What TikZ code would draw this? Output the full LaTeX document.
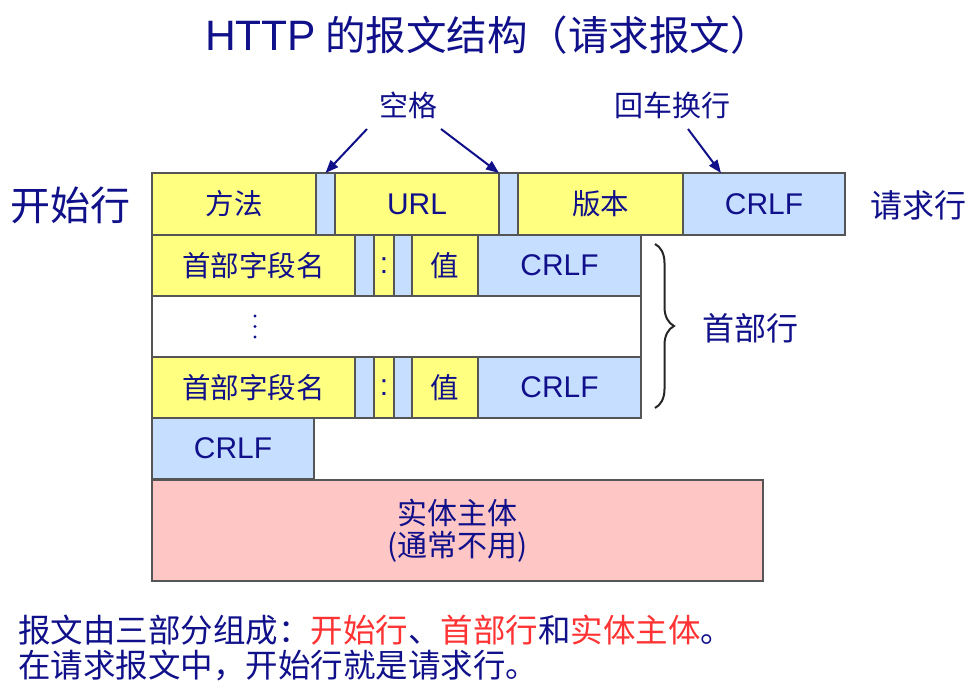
\documentclass[tikz,border=0pt]{standalone}
\usepackage{fontspec}
\setmainfont{Noto Sans CJK SC}
\newfontfamily\lat{Liberation Sans}[Scale=1.05]
\usetikzlibrary{arrows.meta,decorations.pathreplacing}
\definecolor{navy}{HTML}{10108A}
\definecolor{cyel}{HTML}{FFFF80}
\definecolor{cblu}{HTML}{C6DEFF}
\definecolor{cpnk}{HTML}{FFC6C6}
\definecolor{cbord}{HTML}{555555}
\definecolor{cred}{HTML}{FF3333}
\tikzset{
  cell/.style={draw=cbord, line width=1.5pt, anchor=north west, inner sep=0pt, outer sep=0pt, text=navy, font=\fontsize{28.5}{31}\selectfont},
  lbl/.style={inner sep=0pt, text=navy},
  arr/.style={draw=navy, line width=2pt, -{Triangle[length=13pt,width=10pt]}},
}
\newcommand{\cellbox}[7]{%
  \node[cell, fill=#6, minimum width=#4-#2, minimum height=#5-#3] (#1) at (#2,#3) {#7};}
\begin{document}
\begin{tikzpicture}[x=1pt,y=-1pt]
\useasboundingbox (0,0) rectangle (972,690);
% title
\node[lbl, font=\fontsize{40.5}{44}\selectfont] (title) at (488,35) {{\lat HTTP} 的报文结构（请求报文）};
% start line
\cellbox{m}{152}{173}{316}{235}{cyel}{方法}
\cellbox{sp1}{316}{173}{335}{235}{cblu}{}
\cellbox{url}{335}{173}{499}{235}{cyel}{\lat URL}
\cellbox{sp2}{499}{173}{518}{235}{cblu}{}
\cellbox{ver}{518}{173}{683}{235}{cyel}{版本}
\cellbox{crlf1}{683}{173}{845}{235}{cblu}{\lat CRLF}
% header row 1
\cellbox{hn1}{152}{235}{355}{296}{cyel}{首部字段名}
\cellbox{hs1}{355}{235}{374}{296}{cblu}{}
\cellbox{hc1}{374}{235}{394}{296}{cyel}{\lat :}
\cellbox{ht1}{394}{235}{412}{296}{cblu}{}
\cellbox{hv1}{412}{235}{478}{296}{cyel}{值}
\cellbox{hcr1}{478}{235}{641}{296}{cblu}{\lat CRLF}
% ellipsis row
\cellbox{dots}{152}{296}{641}{357}{white}{}
\fill[navy] (255,316) circle (1.6pt) (255,326.5) circle (1.6pt) (255,337) circle (1.6pt);
% header row 2
\cellbox{hn2}{152}{357}{355}{418}{cyel}{首部字段名}
\cellbox{hs2}{355}{357}{374}{418}{cblu}{}
\cellbox{hc2}{374}{357}{394}{418}{cyel}{\lat :}
\cellbox{ht2}{394}{357}{412}{418}{cblu}{}
\cellbox{hv2}{412}{357}{478}{418}{cyel}{值}
\cellbox{hcr2}{478}{357}{641}{418}{cblu}{\lat CRLF}
% empty line
\cellbox{crlf3}{152}{418}{314}{479}{cblu}{\lat CRLF}
% body
\node[cell, fill=cpnk, minimum width=611, minimum height=101, align=center, font=\fontsize{30}{32}\selectfont] (body) at (152,480) {实体主体\\(通常不用)};
% side labels
\node[lbl, font=\fontsize{40}{44}\selectfont] (start) at (70,205) {开始行};
\node[lbl, font=\fontsize{32}{36}\selectfont] (req) at (918,205) {请求行};
\node[lbl, font=\fontsize{32}{36}\selectfont] (hdr) at (750,328) {首部行};
% top labels and arrows
\node[lbl, font=\fontsize{29}{32}\selectfont] (kg) at (408,105) {空格};
\node[lbl, font=\fontsize{29}{32}\selectfont] (hc) at (672,105) {回车换行};
\coordinate (a1) at (367,129);
\coordinate (a2) at (441,129);
\coordinate (a3) at (688,129);
\draw[arr] (a1) -- (sp1.north);
\draw[arr] (a2) -- (sp2.north west);
\draw[arr] (a3) -- ([xshift=38pt]crlf1.north west);
% brace
\coordinate (b1) at (655,244);
\coordinate (b2) at (655,408);
\draw[decorate, decoration={brace, amplitude=19pt, aspect=0.5}, line width=2pt, draw=black!85] (b1) -- (b2);
% bottom text
\node[lbl, anchor=west, font=\fontsize{32.5}{36}\selectfont] (t1) at (18,630) {报文由三部分组成：\textcolor{cred}{开始行}、\textcolor{cred}{首部行}和\textcolor{cred}{实体主体}。};
\node[lbl, anchor=west, font=\fontsize{32.5}{36}\selectfont] (t2) at (18,665) {在请求报文中，开始行就是请求行。};
\end{tikzpicture}
\end{document}
